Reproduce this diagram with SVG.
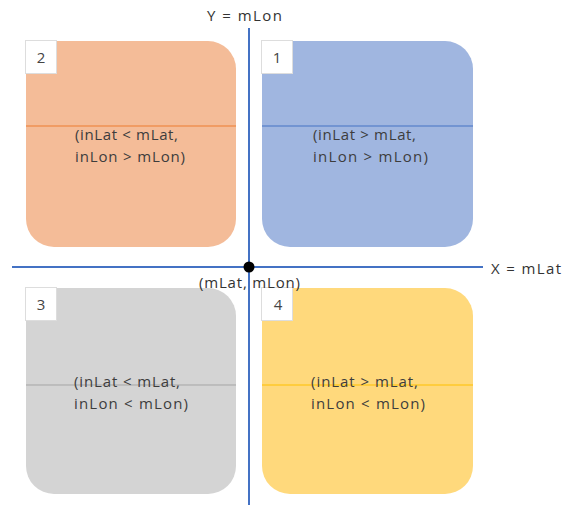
<svg xmlns="http://www.w3.org/2000/svg" width="571" height="505" viewBox="0 0 571 505">
<style>
.t{font-family:"Open Sans","Noto Sans","Liberation Sans",sans-serif;font-size:15px;fill:#3d3d3d}
.ax{font-family:"Open Sans","Noto Sans","Liberation Sans",sans-serif;font-size:15px;fill:#333}
.lb{fill:#fff;stroke:#ddd;stroke-width:1}
.ln{font-family:"Open Sans","Noto Sans","Liberation Sans",sans-serif;font-size:15px;fill:#444}
</style>
<rect width="571" height="505" fill="#fff"/>
<g id="q2">
<rect x="26" y="41" width="210" height="206" rx="28" fill="#F4BC98"/>
<line x1="26" y1="126" x2="236" y2="126" stroke="#ED7D31" stroke-width="1"/>
<rect class="lb" x="25.5" y="40.5" width="31" height="33"/>
<text class="ln" x="41" y="63" text-anchor="middle">2</text>
<text class="t" x="75" y="140" textLength="103" fill="#5a3a2a">(inLat &lt; mLat,</text>
<text class="t" x="75" y="162" textLength="110" fill="#5a3a2a">inLon &gt; mLon)</text>
</g>
<g id="q1">
<rect x="262" y="41" width="211" height="206" rx="28" fill="#A0B6E0"/>
<line x1="262" y1="126" x2="473" y2="126" stroke="#4472C4" stroke-width="1"/>
<rect class="lb" x="261.5" y="40.5" width="31" height="33"/>
<text class="ln" x="277" y="63" text-anchor="middle">1</text>
<text class="t" x="313" y="140" textLength="103" fill="#3a4058">(inLat &gt; mLat,</text>
<text class="t" x="313" y="162" textLength="115" fill="#3a4058">inLon &gt; mLon)</text>
</g>
<g id="q3">
<rect x="26" y="288" width="210" height="206" rx="28" fill="#D4D4D4"/>
<line x1="26" y1="385" x2="236" y2="385" stroke="#A5A5A5" stroke-width="1"/>
<rect class="lb" x="25.5" y="287.5" width="31" height="33"/>
<text class="ln" x="41" y="310" text-anchor="middle">3</text>
<text class="t" x="74" y="387" textLength="106">(inLat &lt; mLat,</text>
<text class="t" x="74" y="409" textLength="114">inLon &lt; mLon)</text>
</g>
<g id="q4">
<rect x="262" y="288" width="211" height="206" rx="28" fill="#FFD97C"/>
<line x1="262" y1="385" x2="473" y2="385" stroke="#FFC000" stroke-width="1"/>
<rect class="lb" x="261.5" y="287.5" width="31" height="33"/>
<text class="ln" x="278" y="310" text-anchor="middle">4</text>
<text class="t" x="311" y="387" textLength="107" fill="#4a3e20">(inLat &gt; mLat,</text>
<text class="t" x="311" y="409" textLength="114" fill="#4a3e20">inLon &lt; mLon)</text>
</g>
<g id="connectors">
<line x1="249" y1="28" x2="249" y2="505" stroke="#4472C4" stroke-width="2"/>
<line x1="12" y1="267" x2="483" y2="267" stroke="#4472C4" stroke-width="2"/>
<circle cx="249" cy="267" r="5.5" fill="#000"/>
</g>
<g id="labels">
<text class="ax" x="207" y="21" textLength="75">Y = mLon</text>
<text class="ax" x="491" y="274" textLength="70">X = mLat</text>
<text class="ax" x="199" y="288" textLength="101">(mLat, mLon)</text>
</g>
</svg>
